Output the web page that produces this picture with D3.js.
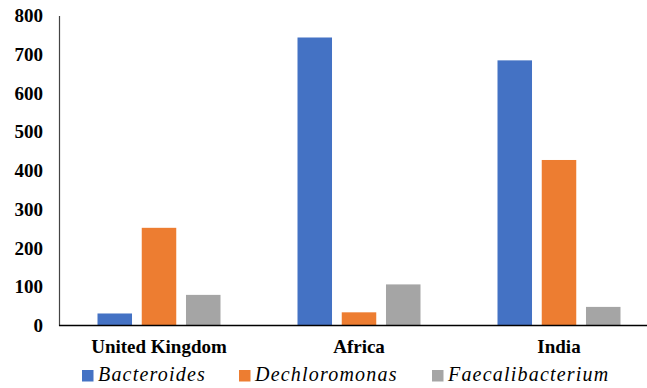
<!DOCTYPE html>
<html>
<head>
<meta charset="utf-8">
<script src="https://cdn.jsdelivr.net/npm/d3@7"></script>
<style>
  html, body { margin: 0; padding: 0; background: #fff; }
  svg { display: block; }
</style>
</head>
<body>
<svg id="chart" width="647" height="388"></svg>
<script>
// Genus abundance by population
const categories = ["United Kingdom", "Africa", "India"];
const seriesNames = ["Bacteroides", "Dechloromonas", "Faecalibacterium"];
const bacteroides = [31, 743, 684];
const dechloromonas = [252, 34, 427];
const faecalibacterium = [79, 106, 48];
const yTicks = [0, 100, 200, 300, 400, 500, 600, 700, 800];
const colors = ["#4472C4", "#ED7D31", "#A5A5A5"];

const seriesValues = [bacteroides, dechloromonas, faecalibacterium];
const rows = categories.map((c, i) => ({
  category: c,
  values: seriesNames.map((s, j) => ({ series: s, value: seriesValues[j][i] }))
}));

const svg = d3.select("#chart");
const plotLeft = 59, plotTop = 15.4, plotBottom = 325.5;
const fontName = "Liberation Serif";

const y = d3.scaleLinear().domain([0, 800]).range([plotBottom, plotTop]);
const x0 = d3.scaleBand().domain(categories).range([plotLeft, plotLeft + 600]).paddingInner(0).paddingOuter(0);
const x1 = d3.scaleBand().domain(seriesNames).range([38.5, 200 - 38.5]).paddingInner(0.22).paddingOuter(0);
const color = d3.scaleOrdinal().domain(seriesNames).range(colors);

// Bars
const groups = svg.append("g").selectAll("g").data(rows).join("g")
  .attr("transform", d => `translate(${x0(d.category)},0)`);
groups.selectAll("rect").data(d => d.values).join("rect")
  .attr("x", d => x1(d.series))
  .attr("width", x1.bandwidth())
  .attr("y", d => y(d.value))
  .attr("height", d => y(0) - y(d.value))
  .attr("fill", d => color(d.series));

// Y axis
const yAxis = svg.append("g")
  .attr("transform", `translate(${plotLeft},0)`)
  .call(d3.axisLeft(y).tickValues(yTicks).tickSize(0).tickPadding(16));
yAxis.select(".domain").attr("stroke", "#444").attr("stroke-width", 1.2);
yAxis.selectAll("text")
  .style("font-family", fontName, "important")
  .style("font-size", "19px").style("font-weight", "bold")
  .attr("fill", "#000");

// X axis
const xAxis = svg.append("g")
  .attr("transform", `translate(0,${plotBottom})`)
  .call(d3.axisBottom(x0).tickSize(0).tickPadding(14));
xAxis.select(".domain").remove();
xAxis.append("line")
  .attr("x1", plotLeft).attr("x2", 647).attr("y1", 0).attr("y2", 0)
  .attr("stroke", "#000").attr("stroke-width", 1.6);
xAxis.selectAll("text")
  .style("font-family", fontName, "important")
  .style("font-size", "19px").style("font-weight", "bold")
  .attr("fill", "#000");

// Legend
const legendX = [82, 239, 432];
const legend = svg.append("g")
  .selectAll("g").data(seriesNames).join("g")
  .attr("transform", (d, i) => `translate(${legendX[i]},370)`);
legend.append("rect")
  .attr("width", 11.5).attr("height", 11.5)
  .attr("fill", d => color(d));
legend.append("text")
  .attr("x", 16).attr("y", 11)
  .style("font-family", fontName, "important")
  .style("font-size", "20px").style("font-style", "italic")
  .style("letter-spacing", "1.2px")
  .attr("fill", "#000")
  .text(d => d);
</script>
</body>
</html>
